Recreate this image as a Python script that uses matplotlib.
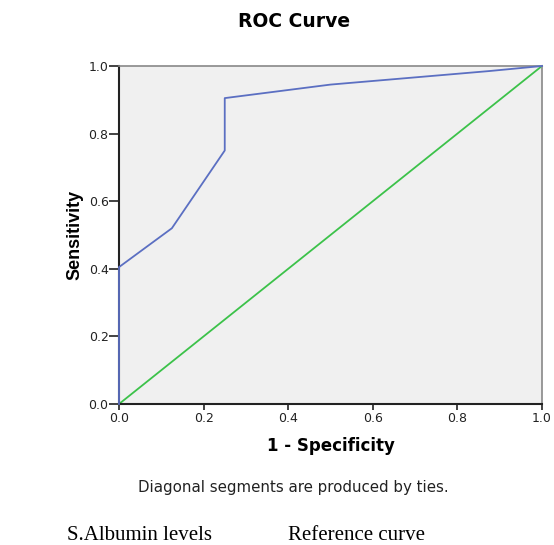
import matplotlib
matplotlib.use("Agg")
import matplotlib.pyplot as plt

fpr = [0.0, 0.0, 0.125, 0.25, 0.25, 0.5, 0.875, 1.0]
tpr = [0.0, 0.405, 0.52, 0.75, 0.905, 0.945, 0.985, 1.0]
ref = [0.0, 1.0]
ticks = [0.0, 0.2, 0.4, 0.6, 0.8, 1.0]
tick_labels = ["0.0", "0.2", "0.4", "0.6", "0.8", "1.0"]

plt.rcParams['font.family'] = ['DejaVu Sans']
fig = plt.figure(figsize=(5.54, 5.45), dpi=100)
ax = fig.add_axes([0.2148, 0.2587, 0.7635, 0.6202])
ax.set_facecolor('#f0f0f0')
ax.plot(ref, ref, color='#3cc24a', lw=1.3, clip_on=False, zorder=2)
ax.plot(fpr, tpr, color='#5b6fc2', lw=1.3, clip_on=False, zorder=3)
ax.set_xlim(0, 1)
ax.set_ylim(0, 1)
ax.set_xticks(ticks)
ax.set_xticklabels(tick_labels)
ax.set_yticks(ticks)
ax.set_yticklabels(tick_labels)
ax.tick_params(axis='both', direction='out', width=1.2, labelsize=9, colors='#222222')
ax.tick_params(axis='x', length=4.5, pad=1)
ax.tick_params(axis='y', length=7, pad=0.5)
for s in ['left', 'bottom']:
    ax.spines[s].set_color('#222222')
    ax.spines[s].set_linewidth(1.5)
for s in ['top', 'right']:
    ax.spines[s].set_color('#888888')
    ax.spines[s].set_linewidth(1.2)
ax.set_xlabel('1 - Specificity', fontsize=12, fontweight='bold', labelpad=9)
ax.set_ylabel('Sensitivity', fontsize=13, fontweight='bold', labelpad=4,
              family=['Liberation Sans', 'DejaVu Sans'])
fig.text(0.53, 0.96, 'ROC Curve', ha='center', va='center', fontsize=13.5, fontweight='bold')
fig.text(0.53, 0.105, 'Diagonal segments are produced by ties.', ha='center', va='center',
         fontsize=10.8, color='#222222')
fig.text(0.121, 0.018, 'S.Albumin levels', ha='left', va='center', fontsize=15,
         family=['Liberation Serif', 'DejaVu Serif'])
fig.text(0.52, 0.018, 'Reference curve', ha='left', va='center', fontsize=15,
         family=['Liberation Serif', 'DejaVu Serif'])
fig.savefig('out.png', dpi=100)
